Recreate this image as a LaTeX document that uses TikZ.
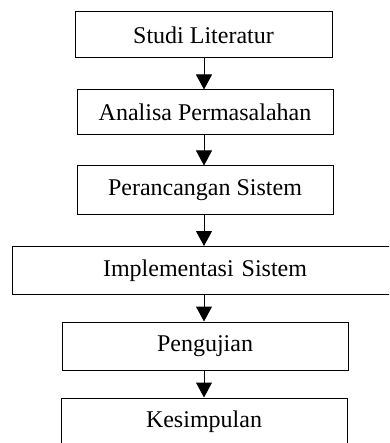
\documentclass[tikz,border=0pt]{standalone}
\usepackage{fontspec}
\setmainfont{Liberation Serif}
\usetikzlibrary{arrows.meta}
\begin{document}
\begin{tikzpicture}[x=1pt,y=-1pt,
  box/.style={draw,line width=1pt,inner sep=0pt,font=\fontsize{24}{28}\selectfont},
  arr/.style={line width=1pt,-{Triangle[width=16pt,length=15pt]}}]
\clip (0,0) rectangle (389,443);
\useasboundingbox (0,0) rectangle (389,443);
\node[box,minimum width=257pt,minimum height=46pt] (b1) at (203.5,35) {Studi Literatur};
\node[box,minimum width=256pt,minimum height=45pt] (b2) at (205,112.5) {Analisa Permasalahan};
\node[box,minimum width=256pt,minimum height=48pt] (b3) at (205,190) {Perancangan Sistem};
\node[box,minimum width=404pt,minimum height=48pt,text width=386pt,align=center,xshift=9pt] (b4) at (205,270.5) {\hspace*{-18pt}Implementasi Sistem};
\node[box,minimum width=286pt,minimum height=48pt] (b5) at (205,346) {Pengujian};
\node[box,minimum width=286pt,minimum height=48pt] (b6) at (204,422) {Kesimpulan};
\draw[arr] (b1.south -| 204,0) -- (b2.north -| 204,0);
\draw[arr] (b2.south -| 204,0) -- (b3.north -| 204,0);
\draw[arr] (b3.south -| 204,0) -- (b4.north -| 204,0);
\draw[arr] (b4.south -| 204,0) -- (b5.north -| 204,0);
\draw[arr] (b5.south -| 204,0) -- (b6.north -| 204,0);
\end{tikzpicture}
\end{document}
